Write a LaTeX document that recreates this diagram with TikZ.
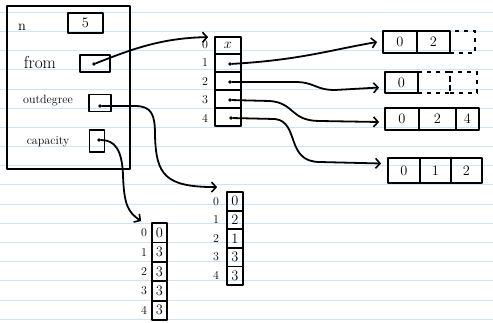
\documentclass[tikz,border=0pt]{standalone}
\usetikzlibrary{arrows.meta}
\definecolor{ruleblue}{RGB}{205,228,246}
\begin{document}
\begin{tikzpicture}[x=1pt,y=-1pt,
  ink/.style={line width=1.8pt, line cap=round, line join=round},
  cell/.style={draw, ink, inner sep=0pt, font=\Large},
  dcell/.style={draw, line width=1.3pt, dash pattern=on 4pt off 5pt, inner sep=0pt},
  idx/.style={font=\large, inner sep=0pt},
  lab/.style={inner sep=0pt},
  ptr/.style={ink, -{Straight Barb[length=4.5pt,width=10pt,line width=1.6pt]}},
  dot/.style={circle, fill, inner sep=0pt, minimum size=3.6pt}]
\useasboundingbox (0,0) rectangle (493,322);
\fill[white] (0,0) rectangle (493,322);
\foreach \k in {0,...,16} \draw[ruleblue, line width=0.9pt] (0,{12.3+19.18*\k}) -- (493,{12.3+19.18*\k});

% struct box
\node[cell, minimum width=123pt, minimum height=163pt] (big) at (68.5,87.5) {};
\node[lab, font=\Large] (ln) at (22,27) {n};
\node[lab, font=\LARGE] (lfrom) at (40,63) {from};
\node[lab, font=\large] (lout) at (48,101) {outdegree};
\node[lab, font=\large] (lcap) at (48,142) {capacity};
\node[cell, minimum width=35pt, minimum height=20pt] (nbox) at (85.5,23) {5};
\node[cell, minimum width=30pt, minimum height=17pt] (frombox) at (95,63.5) {};
\node[dot] (fromdot) at (94,64) {};
\node[cell, minimum width=22pt, minimum height=17pt] (outbox) at (100,103) {};
\node[dot] (outdot) at (100,106) {};
\node[cell, minimum width=15pt, minimum height=22pt] (capbox) at (97,141) {};
\node[dot] (capdot) at (99,140) {};

% pointer array
\node[cell, minimum width=26pt, minimum height=17pt] (p0) at (228,45.5) {$x$};
\node[cell, minimum width=26pt, minimum height=18pt] (p1) at (228,63) {};
\node[cell, minimum width=26pt, minimum height=18pt] (p2) at (228,81) {};
\node[cell, minimum width=26pt, minimum height=18pt] (p3) at (228,99) {};
\node[cell, minimum width=26pt, minimum height=18pt] (p4) at (228,117) {};
\node[dot] (d1) at (230,64) {};
\node[dot] (d2) at (230,82) {};
\node[dot] (d3) at (230,100) {};
\node[dot] (d4) at (231,118) {};
\node[idx] (pi0) at (205,45) {0};
\node[idx] (pi1) at (205,63) {1};
\node[idx] (pi2) at (205,82) {2};
\node[idx] (pi3) at (205,100) {3};
\node[idx] (pi4) at (205,118) {4};

% right arrays
\node[cell, minimum width=34pt, minimum height=22pt] (a1c0) at (400,42) {0};
\node[cell, minimum width=33pt, minimum height=22pt] (a1c1) at (433.5,42) {2};
\node[dcell, minimum width=25pt, minimum height=22pt] (a1c2) at (462.5,42) {};

\node[cell, minimum width=33pt, minimum height=21pt] (a2c0) at (401.5,82.5) {0};
\node[dcell, minimum width=32pt, minimum height=21pt] (a2c1) at (434,82.5) {};
\node[dcell, minimum width=27pt, minimum height=21pt] (a2c2) at (463.5,82.5) {};

\node[cell, minimum width=34pt, minimum height=22pt] (a3c0) at (402,119) {0};
\node[cell, minimum width=37pt, minimum height=22pt] (a3c1) at (437.5,119) {2};
\node[cell, minimum width=23pt, minimum height=22pt] (a3c2) at (467.5,119) {4};

\node[cell, minimum width=32pt, minimum height=25pt] (a4c0) at (404,170.5) {0};
\node[cell, minimum width=31pt, minimum height=25pt] (a4c1) at (435.5,170.5) {1};
\node[cell, minimum width=31pt, minimum height=25pt] (a4c2) at (466.5,170.5) {2};

% outdegree array
\foreach \v/\i in {0/0,2/1,1/2,3/3,3/4}{
  \node[cell, minimum width=16pt, minimum height=18.6pt] (od\i) at (235,{201.3+18.6*\i}) {\v};
  \node[idx] (odi\i) at (216,{201.3+18.6*\i}) {\i};
}
% capacity array
\foreach \v/\i in {0/0,3/1,3/2,3/3,3/4}{
  \node[cell, minimum width=15pt, minimum height=19.4pt] (cp\i) at (159.5,{232.7+19.4*\i}) {\v};
  \node[idx] (cpi\i) at (144,{232.7+19.4*\i}) {\i};
}

% connectors
\draw[ptr] (fromdot) .. controls (130,50) and (160,38) .. ([xshift=-6pt,yshift=-1pt]p0.north west);
\draw[ptr] (d1) .. controls (300,60) and (330,50) .. ([xshift=-5pt]a1c0.west);
\draw[ptr] (d2) -- (295,82) .. controls (315,82) and (315,90) .. (335,90) -- ([xshift=-5pt,yshift=-5pt]a2c0.west);
\draw[ptr] (d3) -- (270,101) .. controls (295,103) and (290,121) .. (320,121) -- ([xshift=-5pt,yshift=-3pt]a3c0.west);
\draw[ptr] (d4) -- (275,119) .. controls (300,122) and (285,162) .. (320,162) -- ([xshift=-6pt,yshift=7pt]a4c0.west);
\draw[ptr] (outdot) -- (135,106) .. controls (152,106) and (155,115) .. (155,135) .. controls (156,175) and (165,187) .. ([xshift=-9pt,yshift=4pt]od0.north west);
\draw[ptr] (capdot) .. controls (115,140) and (122,150) .. (123,175) .. controls (124,205) and (128,212) .. ([xshift=-10pt,yshift=1pt]cp0.north west);
\end{tikzpicture}
\end{document}
